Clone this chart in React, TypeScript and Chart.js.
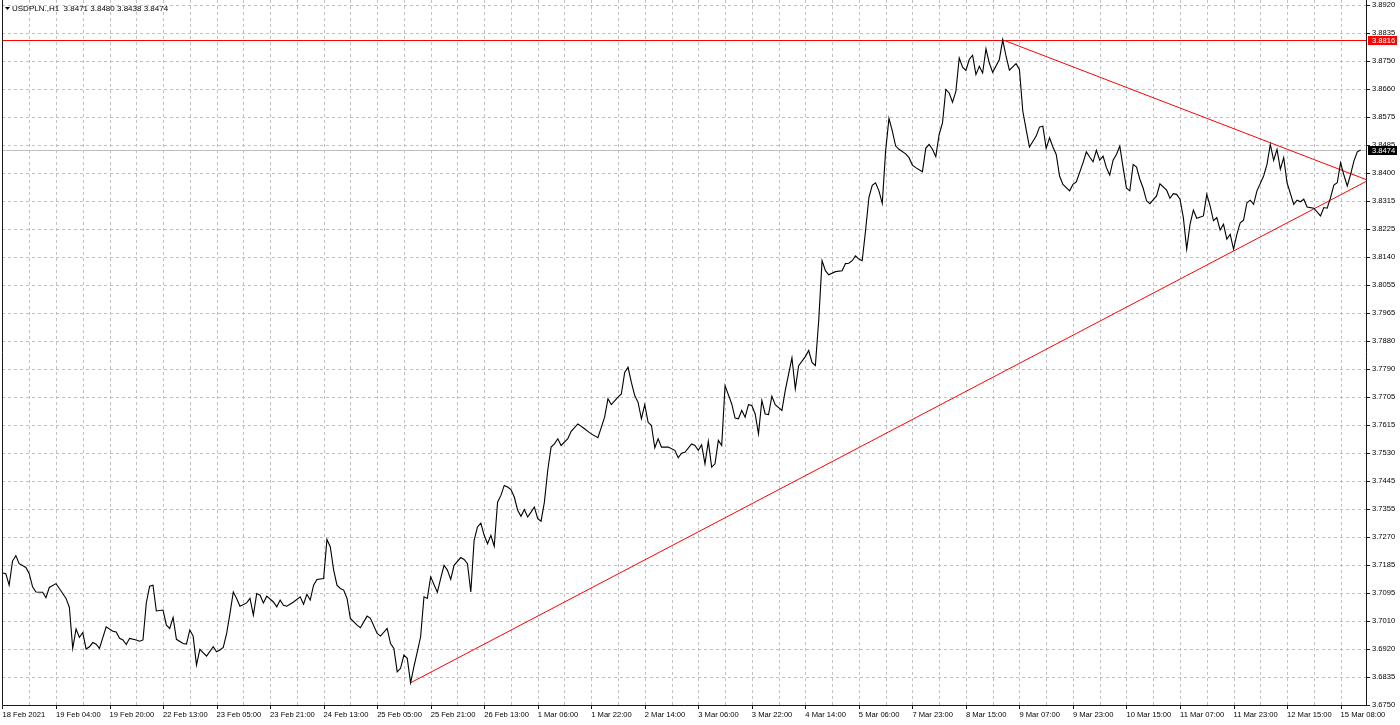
import React, { useEffect, useRef } from 'react';
import { Chart, registerables } from 'chart.js';

Chart.register(...registerables);

// ---- chart data ----
const symbolTitle = 'USDPLN.,H1';
const lastOhlc = ['3.8471', '3.8480', '3.8438', '3.8474'];

const xTickLabels = [
  '18 Feb 2021', '19 Feb 04:00', '19 Feb 20:00', '22 Feb 13:00', '23 Feb 05:00', '23 Feb 21:00',
  '24 Feb 13:00', '25 Feb 05:00', '25 Feb 21:00', '26 Feb 13:00', '1 Mar 06:00', '1 Mar 22:00',
  '2 Mar 14:00', '3 Mar 06:00', '3 Mar 22:00', '4 Mar 14:00', '5 Mar 06:00', '7 Mar 23:00',
  '8 Mar 15:00', '9 Mar 07:00', '9 Mar 23:00', '10 Mar 15:00', '11 Mar 07:00', '11 Mar 23:00',
  '12 Mar 15:00', '15 Mar 08:00',
];
const barsPerLabel = 16;
const barsPerGrid = 8;

const yTickLabels = [
  '3.6750', '3.6835', '3.6920', '3.7010', '3.7095', '3.7185', '3.7270', '3.7355', '3.7445',
  '3.7530', '3.7615', '3.7705', '3.7790', '3.7880', '3.7965', '3.8055', '3.8140', '3.8225',
  '3.8315', '3.8400', '3.8485', '3.8575', '3.8660', '3.8750', '3.8835', '3.8920',
];
const yBottom = 3.675;
const yTopTick = 3.8924;
const yMaxVisible = 3.89397;
const xMin = -0.14;
const xMax = 407.6;

// bar index (H1 bars from the first bar) and close price at that bar
const barIndex = [
  0, 1, 2, 3, 4, 5, 6, 7, 8, 9, 10, 12, 13, 14, 16, 17, 19, 20, 21, 22, 23, 24, 25, 26, 27, 28, 29,
  31, 33, 34, 35, 36, 37, 38, 40, 41, 42, 43, 44, 45, 46, 48, 49, 50, 51, 52, 54, 55, 56, 57, 58,
  59, 61, 63, 64, 65, 66, 67, 68, 69, 70, 71, 73, 74, 75, 76, 77, 78, 79, 81, 82, 83, 84, 85, 87,
  89, 90, 91, 92, 93, 94, 96, 97, 98, 99, 100, 101, 102, 103, 104, 106, 107, 109, 110, 112, 113,
  115, 116, 117, 118, 119, 120, 121, 122, 123, 124, 125, 126, 127, 128, 130, 131, 132, 133, 134,
  135, 137, 138, 139, 140, 141, 142, 143, 144, 145, 146, 147, 148, 149, 150, 151, 152, 153, 154,
  155, 156, 157, 158, 159, 160, 161, 162, 163, 164, 165, 166, 167, 169, 170, 172, 174, 175, 176,
  178, 180, 181, 182, 184, 185, 186, 187, 188, 189, 190, 191, 192, 193, 194, 195, 196, 197, 199,
  201, 202, 203, 204, 206, 207, 208, 209, 210, 211, 212, 213, 214, 215, 216, 218, 219, 220, 221,
  222, 223, 224, 225, 226, 227, 228, 229, 230, 231, 233, 234, 236, 237, 238, 240, 241, 242, 243,
  244, 245, 246, 247, 249, 251, 252, 253, 254, 255, 256, 257, 258, 259, 260, 261, 262, 263, 264,
  265, 266, 267, 268, 270, 271, 272, 273, 275, 276, 277, 278, 279, 280, 281, 282, 283, 284, 285,
  286, 287, 288, 289, 290, 291, 292, 293, 294, 295, 296, 298, 299, 300, 301, 303, 304, 305, 306,
  307, 309, 310, 311, 312, 313, 314, 315, 316, 317, 319, 320, 321, 323, 324, 325, 326, 327, 328,
  329, 330, 331, 332, 333, 334, 335, 336, 337, 338, 339, 340, 341, 342, 343, 345, 346, 348, 349,
  350, 351, 352, 353, 354, 355, 356, 357, 359, 360, 361, 362, 363, 364, 365, 366, 367, 368, 369,
  370, 371, 372, 373, 374, 375, 377, 378, 379, 380, 381, 382, 383, 384, 386, 387, 388, 389, 390,
  392, 394, 395, 396, 397, 398, 399, 400, 401, 402, 403, 404, 405, 406,
];
const closePrices = [
  3.716, 3.7158, 3.7122, 3.7197, 3.7214, 3.7189, 3.7183, 3.7177, 3.7158, 3.7117, 3.7101, 3.71,
  3.7083, 3.7115, 3.7127, 3.7112, 3.7081, 3.7053, 3.6926, 3.6986, 3.696, 3.6975, 3.6924, 3.6931,
  3.6944, 3.6939, 3.6926, 3.6993, 3.6979, 3.6977, 3.6957, 3.6952, 3.6938, 3.6957, 3.6952, 3.6948,
  3.6952, 3.7067, 3.7119, 3.7122, 3.7042, 3.7045, 3.6998, 3.6988, 3.7022, 3.6954, 3.6941, 3.6939,
  3.6983, 3.6964, 3.6874, 3.6923, 3.6902, 3.6931, 3.6915, 3.6921, 3.6929, 3.6972, 3.7034, 3.7101,
  3.7081, 3.7057, 3.7067, 3.7081, 3.7029, 3.7096, 3.7091, 3.7067, 3.7088, 3.707, 3.7055, 3.7076,
  3.706, 3.7057, 3.707, 3.7086, 3.7063, 3.7094, 3.7076, 3.7122, 3.714, 3.7143, 3.7264, 3.7241,
  3.7169, 3.7122, 3.7112, 3.7107, 3.7081, 3.7019, 3.6998, 3.699, 3.7026, 3.7019, 3.6972, 3.6964,
  3.6988, 3.6941, 3.6926, 3.6853, 3.6864, 3.6905, 3.6895, 3.6819, 3.6869, 3.6915, 3.6962, 3.7086,
  3.7081, 3.7148, 3.71, 3.7143, 3.7184, 3.7169, 3.714, 3.7184, 3.7208, 3.7202, 3.7189, 3.7101,
  3.7262, 3.7303, 3.7315, 3.7277, 3.7251, 3.7277, 3.7243, 3.738, 3.7401, 3.7432, 3.7427, 3.7419,
  3.7396, 3.7355, 3.7336, 3.7357, 3.7334, 3.7349, 3.7365, 3.7329, 3.7321, 3.738, 3.7479, 3.7551,
  3.7561, 3.7577, 3.7556, 3.7577, 3.76, 3.7623, 3.7608, 3.76, 3.7592, 3.758, 3.7644, 3.7701,
  3.7683, 3.7706, 3.7716, 3.7783, 3.7799, 3.7752, 3.7711, 3.769, 3.7639, 3.7683, 3.7628, 3.7618,
  3.7549, 3.7577, 3.7551, 3.7551, 3.7541, 3.7518, 3.7532, 3.7535, 3.7561, 3.7556, 3.7541, 3.7558,
  3.7499, 3.7569, 3.7489, 3.7499, 3.7572, 3.7556, 3.7742, 3.7685, 3.7641, 3.7639, 3.7665, 3.7644,
  3.7683, 3.768, 3.7654, 3.7592, 3.7696, 3.7654, 3.7652, 3.7709, 3.7683, 3.7665, 3.7727, 3.7828,
  3.7732, 3.7804, 3.7832, 3.7851, 3.7814, 3.7804, 3.7944, 3.813, 3.8099, 3.8086, 3.8096, 3.8099,
  3.8121, 3.8122, 3.813, 3.8145, 3.8135, 3.813, 3.8223, 3.8326, 3.8364, 3.8372, 3.8347, 3.8308,
  3.8471, 3.8572, 3.8533, 3.8486, 3.8476, 3.8462, 3.845, 3.8427, 3.8419, 3.8406, 3.8479, 3.8491,
  3.8476, 3.8453, 3.8522, 3.8558, 3.8662, 3.8651, 3.8622, 3.8656, 3.876, 3.8731, 3.8721, 3.8755,
  3.8768, 3.8708, 3.8734, 3.8713, 3.8788, 3.8744, 3.8715, 3.8755, 3.8816, 3.8765, 3.8722, 3.8742,
  3.8724, 3.8595, 3.8538, 3.8483, 3.8517, 3.8545, 3.8548, 3.8479, 3.8512, 3.8483, 3.846, 3.8393,
  3.8367, 3.8347, 3.8367, 3.8375, 3.8434, 3.8468, 3.8452, 3.8437, 3.8473, 3.8442, 3.8455, 3.8419,
  3.8396, 3.8442, 3.846, 3.8486, 3.8419, 3.8355, 3.8347, 3.8429, 3.8421, 3.8383, 3.8355, 3.8316,
  3.8307, 3.8331, 3.8369, 3.8349, 3.8324, 3.8338, 3.8336, 3.8321, 3.8264, 3.8166, 3.8243, 3.8287,
  3.8262, 3.8269, 3.8336, 3.83, 3.8254, 3.8264, 3.8225, 3.8243, 3.8197, 3.8212, 3.8166, 3.8212,
  3.8248, 3.8256, 3.831, 3.8318, 3.8305, 3.8347, 3.8393, 3.8429, 3.8491, 3.8442, 3.8476, 3.8414,
  3.845, 3.8372, 3.8305, 3.8318, 3.8313, 3.8321, 3.8297, 3.8293, 3.8269, 3.8295, 3.8293, 3.8326,
  3.8365, 3.8372, 3.8434, 3.8396, 3.8362, 3.8398, 3.844, 3.8468, 3.8474,
];

// trend lines (bar index, price)
const supportBars = [122, 407.6];
const supportPrices = [3.6819, 3.8376];
const resistanceBars = [299, 407.6];
const resistancePrices = [3.8816, 3.8382];

const highLevel = 3.8816;
const highLevelLabel = '3.8816';
const bidPrice = 3.8474;
const bidLabel = '3.8474';

const FONT = 'Liberation Sans';
const FONT_SIZE = 7.6;
const HEADER_FONT_SIZE = 8;

const mt4Plugin = {
  id: 'mt4Decor',
  beforeDatasetsDraw(chart: any) {
    const { ctx, chartArea, scales } = chart;
    const { left, right, top, bottom } = chartArea;
    const x = scales.x;
    const y = scales.y;
    ctx.save();
    ctx.lineWidth = 1;
    ctx.strokeStyle = '#c0c0c0';
    ctx.setLineDash([3, 3]);
    x.ticks.forEach((t: any) => {
      const px = Math.round(x.getPixelForValue(t.value)) + 0.5;
      if (px <= left + 1.5 || px >= right - 0.5) return;
      ctx.beginPath();
      ctx.moveTo(px, top);
      ctx.lineTo(px, bottom);
      ctx.stroke();
    });
    y.ticks.forEach((t: any) => {
      const py = Math.round(y.getPixelForValue(t.value)) + 0.5;
      if (py >= bottom - 0.5) return;
      ctx.beginPath();
      ctx.moveTo(left, py);
      ctx.lineTo(right, py);
      ctx.stroke();
    });
    ctx.setLineDash([]);
    // bid line
    const pyBid = Math.round(y.getPixelForValue(bidPrice)) + 0.5;
    ctx.strokeStyle = '#c0c0c0';
    ctx.beginPath();
    ctx.moveTo(left, pyBid);
    ctx.lineTo(right, pyBid);
    ctx.stroke();
    // horizontal high level
    const pyHigh = Math.round(y.getPixelForValue(highLevel)) + 0.5;
    ctx.strokeStyle = '#ff0000';
    ctx.beginPath();
    ctx.moveTo(left, pyHigh);
    ctx.lineTo(right, pyHigh);
    ctx.stroke();
    ctx.restore();
  },
  afterDraw(chart: any) {
    const { ctx, chartArea, scales } = chart;
    const { left, right, top, bottom } = chartArea;
    const x = scales.x;
    const y = scales.y;
    ctx.save();
    // frame
    ctx.strokeStyle = '#1a1a1a';
    ctx.lineWidth = 1;
    ctx.beginPath();
    ctx.moveTo(left + 0.5, top);
    ctx.lineTo(left + 0.5, bottom + 0.5);
    ctx.lineTo(right + 0.5, bottom + 0.5);
    ctx.lineTo(right + 0.5, top);
    ctx.stroke();
    // x tick marks at labels
    x.ticks.forEach((t: any) => {
      if (Math.round(t.value) % barsPerLabel !== 0) return;
      const px = Math.round(x.getPixelForValue(t.value)) + 0.5;
      ctx.beginPath();
      ctx.moveTo(px, bottom + 0.5);
      ctx.lineTo(px, bottom + 4);
      ctx.stroke();
    });
    // y tick marks
    y.ticks.forEach((t: any) => {
      const py = Math.round(y.getPixelForValue(t.value)) + 0.5;
      ctx.beginPath();
      ctx.moveTo(right + 0.5, py);
      ctx.lineTo(right + 4, py);
      ctx.stroke();
    });
    // price boxes
    const drawBox = (value: number, text: string, bg: string) => {
      const py = y.getPixelForValue(value);
      ctx.fillStyle = bg;
      ctx.fillRect(right + 2, Math.round(py) - 4, 29, 9);
      ctx.fillStyle = '#ffffff';
      ctx.font = `${FONT_SIZE}px "${FONT}"`;
      ctx.textBaseline = 'middle';
      ctx.textAlign = 'left';
      ctx.fillText(text, right + 6, Math.round(py) + 0.5);
    };
    drawBox(highLevel, highLevelLabel, '#ff0000');
    drawBox(bidPrice, bidLabel, '#000000');
    // header
    ctx.fillStyle = '#000000';
    ctx.beginPath();
    ctx.moveTo(5, 7);
    ctx.lineTo(10, 7);
    ctx.lineTo(7.5, 10);
    ctx.closePath();
    ctx.fill();
    ctx.font = `${HEADER_FONT_SIZE}px "${FONT}"`;
    ctx.textBaseline = 'middle';
    ctx.textAlign = 'left';
    ctx.fillText(`${symbolTitle}  ${lastOhlc.join(' ')}`, 12, 8.5);
    ctx.restore();
  },
};

export default function App() {
  const canvasRef = useRef<HTMLCanvasElement | null>(null);

  useEffect(() => {
    document.body.style.margin = '0';
    const canvas = canvasRef.current;
    if (!canvas) return;

    const gridBars: number[] = [];
    for (let b = 0; b <= xMax; b += barsPerGrid) gridBars.push(b);

    const chart = new Chart(canvas, {
      type: 'line',
      data: {
        datasets: [
          {
            data: barIndex.map((b, i) => ({ x: b, y: closePrices[i] })),
            borderColor: '#000000',
            borderWidth: 1.1,
            pointRadius: 0,
            tension: 0,
            fill: false,
          },
          {
            data: supportBars.map((b, i) => ({ x: b, y: supportPrices[i] })),
            borderColor: '#ff0000',
            borderWidth: 1,
            pointRadius: 0,
            fill: false,
          },
          {
            data: resistanceBars.map((b, i) => ({ x: b, y: resistancePrices[i] })),
            borderColor: '#ff0000',
            borderWidth: 1,
            pointRadius: 0,
            fill: false,
          },
        ],
      },
      options: {
        responsive: false,
        animation: false,
        events: [],
        layout: { padding: { left: 2, top: 0, right: 0, bottom: 0 }, autoPadding: false },
        plugins: { legend: { display: false }, tooltip: { enabled: false } },
        scales: {
          x: {
            type: 'linear',
            position: 'bottom',
            min: xMin,
            max: xMax,
            afterBuildTicks: (s: any) => {
              s.ticks = gridBars.map((v) => ({ value: v }));
            },
            afterFit: (s: any) => {
              s.height = 20;
              s.paddingLeft = 0;
              s.paddingRight = 0;
            },
            grid: { display: false, drawTicks: false, tickLength: 0 },
            border: { display: false },
            ticks: {
              autoSkip: false,
              maxRotation: 0,
              minRotation: 0,
              align: 'start',
              padding: 5,
              color: '#000000',
              font: { family: FONT, size: FONT_SIZE },
              callback: (v: any) => {
                const b = Math.round(Number(v));
                return b % barsPerLabel === 0 ? xTickLabels[b / barsPerLabel] ?? '' : '';
              },
            },
          },
          y: {
            type: 'linear',
            position: 'right',
            min: yBottom,
            max: yMaxVisible,
            afterBuildTicks: (s: any) => {
              const n = yTickLabels.length - 1;
              s.ticks = yTickLabels.map((_, k) => ({ value: yBottom + (k * (yTopTick - yBottom)) / n }));
            },
            afterFit: (s: any) => {
              s.width = 34;
              s.paddingTop = 0;
              s.paddingBottom = 0;
            },
            grid: { display: false, drawTicks: false, tickLength: 0 },
            border: { display: false },
            ticks: {
              autoSkip: false,
              padding: 6,
              color: '#000000',
              font: { family: FONT, size: FONT_SIZE },
              callback: (_v: any, i: number) => yTickLabels[i] ?? '',
            },
          },
        },
      },
      plugins: [mt4Plugin],
    } as any);

    return () => chart.destroy();
  }, []);

  return (
    <canvas
      ref={canvasRef}
      width={1400}
      height={725}
      style={{ display: 'block', width: '1400px', height: '725px', background: '#ffffff' }}
    />
  );
}
